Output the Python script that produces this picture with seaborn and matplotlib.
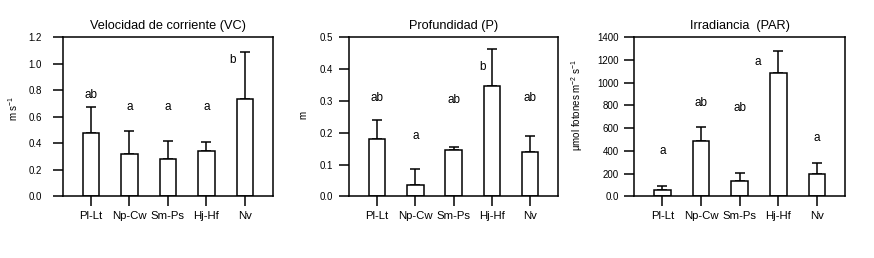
import numpy as np
import matplotlib
matplotlib.use("Agg")
import matplotlib.pyplot as plt
import seaborn as sns

# -------------------------------
# DATA
# -------------------------------
sites = ['Pl-Lt', 'Np-Cw', 'Sm-Ps', 'Hj-Hf', 'Nv']

vc_mean = [0.48, 0.32, 0.28, 0.34, 0.73]
vc_sd = [0.19, 0.17, 0.14, 0.07, 0.36]
vc_letters = ['ab', 'a', 'a', 'a', 'b']
vc_letter_y = [0.745, 0.65, 0.65, 0.65, 1.005]
vc_letter_dx = [0, 0, 0, 0, -0.32]
vc_ticks = [0.0, 0.2, 0.4, 0.6, 0.8, 1.0, 1.2]
vc_ticklabels = ['0.0', '0.2', '0.4', '0.6', '0.8', '1.0', '1.2']

p_mean = [0.18, 0.035, 0.146, 0.347, 0.14]
p_sd = [0.061, 0.05, 0.008, 0.114, 0.051]
p_letters = ['ab', 'a', 'ab', 'b', 'ab']
p_letter_y = [0.298, 0.18, 0.293, 0.397, 0.298]
p_letter_dx = [0, 0, 0, -0.25, 0]
p_ticks = [0.0, 0.1, 0.2, 0.3, 0.4, 0.5]
p_ticklabels = ['0.0', '0.1', '0.2', '0.3', '0.4', '0.5']

par_mean = [60, 483, 137, 1088, 198]
par_sd = [30, 125, 73, 187, 96]
par_letters = ['a', 'ab', 'ab', 'a', 'a']
par_letter_y = [375, 795, 754, 1152, 486]
par_letter_dx = [0, 0, 0, -0.54, 0]
par_ticks = [0, 200, 400, 600, 800, 1000, 1200, 1400]
par_ticklabels = ['0.0', '200', '400', '600', '800', '1000', '1200', '1400']

# -------------------------------
# STYLE
# -------------------------------
sns.set_style('ticks')
plt.rcParams['font.family'] = ['Liberation Sans', 'DejaVu Sans']
plt.rcParams['mathtext.fontset'] = 'custom'
plt.rcParams['mathtext.rm'] = 'Liberation Sans'
plt.rcParams['mathtext.it'] = 'Liberation Sans:italic'
plt.rcParams['mathtext.default'] = 'regular'
plt.rcParams['text.color'] = 'black'
plt.rcParams['axes.labelcolor'] = 'black'
plt.rcParams['xtick.color'] = 'black'
plt.rcParams['ytick.color'] = 'black'

fig = plt.figure(figsize=(8.74, 2.58), dpi=100)

panels = [
    dict(mean=vc_mean, sd=vc_sd, letters=vc_letters, ly=vc_letter_y, ldx=vc_letter_dx,
         ticks=vc_ticks, ticklabels=vc_ticklabels, ylim=(0, 1.2),
         title='Velocidad de corriente (VC)', ylabel=r'm s$^{-1}$',
         rect=[0.0717, 0.2384, 0.2406, 0.618], ypad=8, lab=(-0.203, 0.55)),
    dict(mean=p_mean, sd=p_sd, letters=p_letters, ly=p_letter_y, ldx=p_letter_dx,
         ticks=p_ticks, ticklabels=p_ticklabels, ylim=(0, 0.5),
         title='Profundidad (P)', ylabel='m',
         rect=[0.3997, 0.2384, 0.2388, 0.618], ypad=5, lab=(-0.198, 0.51)),
    dict(mean=par_mean, sd=par_sd, letters=par_letters, ly=par_letter_y, ldx=par_letter_dx,
         ticks=par_ticks, ticklabels=par_ticklabels, ylim=(0, 1400),
         title='Irradiancia  (PAR)', ylabel=r'µmol fotones m$^{-2}$ s$^{-1}$',
         rect=[0.7257, 0.2384, 0.2411, 0.618], ypad=4, lab=(-0.234, 0.575)),
]

for pn in panels:
    ax = fig.add_axes(pn['rect'])
    sns.barplot(x=sites, y=pn['mean'], color='white', saturation=1,
                edgecolor='black', linewidth=1.1, width=0.43,
                errorbar=None, ax=ax, zorder=2)
    x = np.arange(len(sites))
    ax.errorbar(x, pn['mean'], yerr=[np.zeros(len(sites)), pn['sd']],
                fmt='none', ecolor='black', elinewidth=1.1, capsize=3.6,
                capthick=1.1, zorder=1)
    for xi, dx, yv, lt in zip(x, pn['ldx'], pn['ly'], pn['letters']):
        ax.text(xi + dx, yv, lt, ha='center', va='baseline', fontsize=8.5,
                color='black')

    ax.set_xlim(-0.73, 4.73)
    ax.set_ylim(*pn['ylim'])
    ax.set_yticks(pn['ticks'])
    ax.set_yticklabels(pn['ticklabels'])
    ax.set_title(pn['title'], fontsize=9.2, pad=5.5, color='black')
    ax.set_ylabel(pn['ylabel'], fontsize=7)
    ax.yaxis.set_label_coords(*pn['lab'])
    ax.set_xlabel('')

    for sp in ax.spines.values():
        sp.set_visible(True)
        sp.set_linewidth(1.1)
        sp.set_color('black')
    ax.tick_params(axis='y', direction='out', length=7, width=1.1,
                   labelsize=7, pad=pn['ypad'], colors='black')
    ax.tick_params(axis='x', direction='out', length=7, width=1.1,
                   labelsize=8.2, pad=3.5, colors='black')

fig.savefig('out.png', dpi=100)
